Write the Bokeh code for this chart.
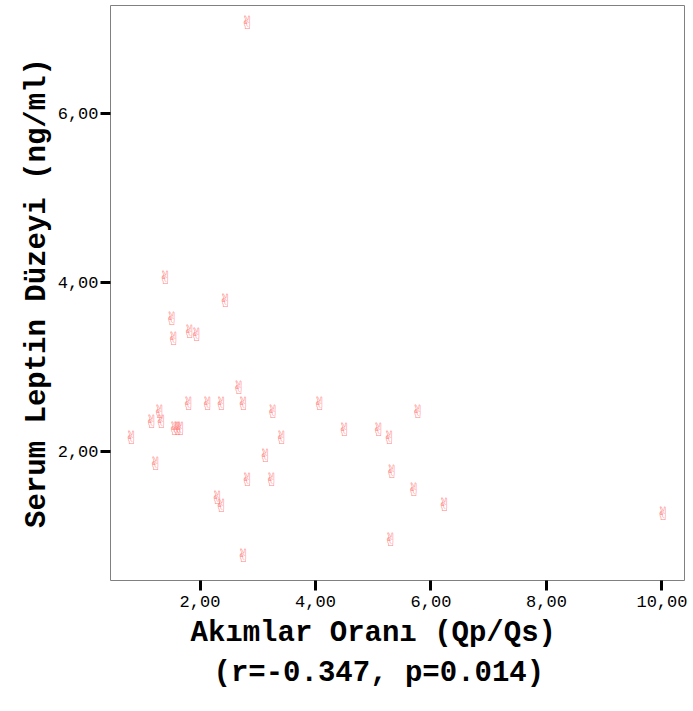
from bokeh.plotting import figure
from bokeh.models import Range1d, FixedTicker, Title, ColumnDataSource
from bokeh.core.properties import value
from bokeh.embed import file_html
from bokeh.resources import INLINE

# Data
qp_qs = [2.82, 1.40, 2.44, 1.51, 1.54, 1.82, 1.94, 2.67, 1.80, 2.13,
         2.37, 2.75, 4.07, 3.26, 5.77, 1.30, 1.16, 1.33, 1.56, 1.61,
         1.66, 4.50, 5.09, 0.81, 3.41, 5.28, 3.13, 1.23, 5.32, 2.82,
         3.24, 5.70, 2.30, 2.37, 6.23, 10.02, 5.30, 2.75]
leptin = [7.08, 4.06, 3.79, 3.57, 3.34, 3.42, 3.38, 2.76, 2.57, 2.57,
          2.57, 2.57, 2.57, 2.47, 2.47, 2.47, 2.36, 2.36, 2.27, 2.27,
          2.27, 2.26, 2.26, 2.17, 2.17, 2.17, 1.95, 1.86, 1.76, 1.67,
          1.67, 1.55, 1.46, 1.36, 1.37, 1.27, 0.96, 0.77]
x_ticks = [2, 4, 6, 8, 10]
y_ticks = [2, 4, 6]
x_tick_labels = {2: "2,00", 4: "4,00", 6: "6,00", 8: "8,00", 10: "10,00"}
y_tick_labels = {2: "2,00", 4: "4,00", 6: "6,00"}
x_title = "Akımlar Oranı (Qp/Qs)"
x_subtitle = "(r=-0.347, p=0.014)"
y_title = "Serum Leptin Düzeyi (ng/ml)"

src = ColumnDataSource(dict(x=qp_qs, y=leptin, t=["\u270C\uFE0E"] * len(qp_qs)))

p = figure(frame_width=574, frame_height=575,
           min_border_left=110, min_border_top=5, min_border_right=8,
           min_border_bottom=0,
           x_range=Range1d(0.45, 10.39), y_range=Range1d(0.473, 7.28),
           output_backend="svg", toolbar_location=None,
           background_fill_color="white", border_fill_color="white")

p.xgrid.visible = False
p.ygrid.visible = False
p.outline_line_color = "#808080"
p.outline_line_width = 1

mono = "Liberation Mono"
for ax in (p.xaxis[0], p.yaxis[0]):
    ax.axis_line_color = None
    ax.major_tick_line_color = "black"
    ax.major_tick_line_width = 3
    ax.major_tick_out = 10
    ax.major_tick_in = 0
    ax.minor_tick_line_color = None
    ax.major_label_text_font = mono
    ax.major_label_text_font_size = "17px"
    ax.major_label_text_color = "black"

p.xaxis.ticker = FixedTicker(ticks=x_ticks)
p.yaxis.ticker = FixedTicker(ticks=y_ticks)
p.xaxis.major_label_overrides = x_tick_labels
p.yaxis.major_label_overrides = y_tick_labels
p.xaxis.major_label_standoff = 5
p.yaxis.major_label_standoff = 2

p.yaxis.axis_label = y_title
p.yaxis.axis_label_text_font = mono
p.yaxis.axis_label_text_font_style = "bold"
p.yaxis.axis_label_text_font_size = "29px"
p.yaxis.axis_label_text_color = "black"
p.yaxis.axis_label_standoff = 1

p.text(x="x", y="y", text="t", source=src,
       text_font=value("DejaVu Sans"), text_font_size="18px",
       text_color="#ff6b6b", text_alpha=0.85,
       text_align="center", text_baseline="middle")

t1 = Title(text=x_title, text_font=mono, text_font_style="bold",
           text_font_size="29px", text_color="black", align="left",
           offset=80, standoff=10)
t2 = Title(text=x_subtitle, text_font=mono, text_font_style="bold",
           text_font_size="29px", text_color="black", align="left",
           offset=103, standoff=0)
p.add_layout(t1, "below")
p.add_layout(t2, "below")

open("out.html", "w").write(file_html(p, INLINE))
